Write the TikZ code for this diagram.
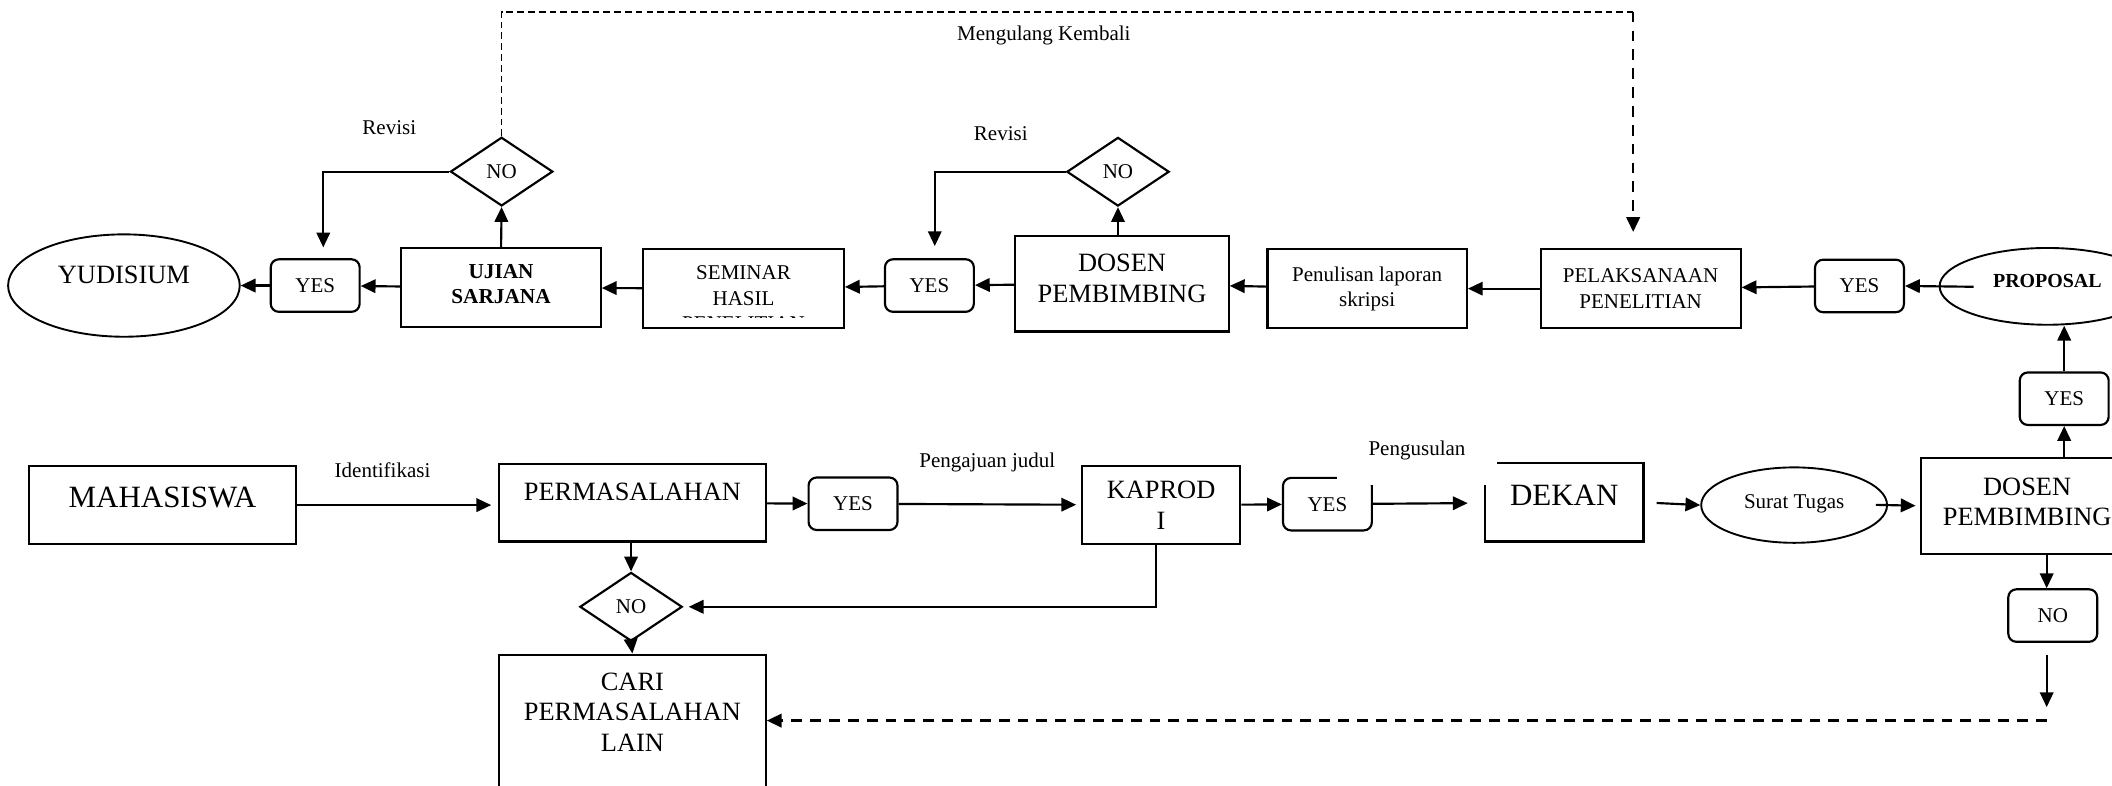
\documentclass[tikz,border=0pt]{standalone}
\usepackage{fontspec}
\setmainfont{Liberation Serif}
\usetikzlibrary{shapes.geometric,arrows.meta}
\begin{document}
\begin{tikzpicture}[x=0.5pt,y=-0.5pt]

\tikzset{line/.style={draw,line width=0.8pt}}
\tikzset{arrow/.style={line,-{Triangle[length=5.5pt,width=5pt]}}}
\tikzset{dashline/.style={draw,line width=0.6pt,dash pattern=on 2.5pt off 1.5pt}}
\tikzset{dasharrow/.style={arrow,line width=0.9pt,dash pattern=on 4pt off 3pt}}
\tikzset{txtS/.style={font=\fontsize{7.8}{9.4}\selectfont}}
\tikzset{txtM/.style={font=\fontsize{9.8}{11.3}\selectfont}}
\tikzset{txtL/.style={font=\fontsize{11.5}{13.5}\selectfont}}
\tikzset{box/.style={line,rectangle,align=center,inner sep=1pt}}
\tikzset{yesbox/.style={box,txtS,rounded corners=3pt,minimum width=33pt,minimum height=19.5pt}}
\tikzset{decision/.style={line,diamond,txtS,inner sep=0pt,minimum width=38pt,minimum height=25.5pt}}
\tikzset{oval/.style={draw,line width=0.7pt,ellipse,align=center,inner sep=1pt}}
\tikzset{lbl/.style={txtS,inner sep=0pt}}

\useasboundingbox (0,0) rectangle (1568,583);
\clip (0,0) rectangle (1568,583);

\node[oval,txtM,text depth=8pt,minimum width=86pt,minimum height=38pt] (yudisium) at (92, 212) {YUDISIUM};
\node[yesbox] (yes1) at (234, 212) {YES};
\node[box,txtS,font=\fontsize{7.9}{9.2}\selectfont\bfseries,text depth=2.5pt,minimum width=74pt,minimum height=29.5pt] (ujian) at (372, 213.5) {UJIAN\\SARJANA};
\node[decision] (no1) at (372.4, 127.4) {NO};
\node[box,minimum width=74.5pt,minimum height=29.3pt] (seminar) at (552, 214.3) {};
\begin{scope}
\clip (478, 186) rectangle (626, 235.5);
\node[lbl,align=center] (seminartext) at (552, 221.5) {SEMINAR\\HASIL\\PENELITIAN};
\end{scope}
\node[yesbox] (yes2) at (690, 212) {YES};
\node[box,txtM,text depth=4pt,minimum width=79.25pt,minimum height=35.5pt] (dosen1) at (833, 210.6) {DOSEN\\PEMBIMBING};
\node[decision] (no2) at (830, 127.5) {NO};
\node[box,txtS,minimum width=74pt,minimum height=29.3pt] (penulisan) at (1015, 214.3) {Penulisan laporan\\skripsi};
\node[box,txtS,minimum width=74.25pt,minimum height=29.3pt] (pelaksanaan) at (1218, 214.3) {PELAKSANAAN\\PENELITIAN};
\node[yesbox] (yes3) at (1380.5, 212.3) {YES};
\node[oval,txtS,font=\fontsize{7.4}{9}\selectfont\bfseries,text depth=4pt,minimum width=80pt,minimum height=28.5pt] (proposal) at (1520, 212.6) {PROPOSAL};

\path[arrow,shorten <=-13pt] (proposal.west) -- (yes3.east);
\path[arrow] (yes3) -- (pelaksanaan);
\path[arrow] (pelaksanaan) -- (penulisan);
\path[arrow] (penulisan) -- (dosen1);
\path[arrow] (dosen1) -- (yes2);
\path[arrow] (yes2) -- (seminar);
\path[arrow] (seminar) -- (ujian);
\path[arrow] (ujian) -- (yes1);
\path[arrow] (yes1) -- (yudisium);
\path[arrow] (ujian.north) -- (no1.south);
\path[arrow] (no2.south |- dosen1.north) -- (no2.south);
\path[arrow,shorten >=4pt] (no1.west) -| ([xshift=3pt]yes1.north);
\path[arrow,shorten >=4.5pt] (no2.west) -| ([xshift=2pt]yes2.north);

\node[lbl] (revisi1) at (289, 95) {Revisi};
\node[lbl] (revisi2) at (743, 99) {Revisi};
\node[lbl] (ulang) at (775, 26.7) {Mengulang Kembali};

\coordinate (turn) at (1212.5, 8.7);
\path[dashline] (no1.north) |- (turn);
\path[dasharrow,shorten >=6pt] (turn) -- (turn |- pelaksanaan.north);

\node[box,txtL,text depth=6pt,minimum width=99pt,minimum height=29pt] (mahasiswa) at (120.6, 375) {MAHASISWA};
\node[box,txtM,text depth=8pt,minimum width=99pt,minimum height=28.75pt] (permasalahan) at (469.5, 373.3) {PERMASALAHAN};
\node[yesbox] (yes4) at (633.3, 374) {YES};
\node[box,txtM,minimum width=58.75pt,minimum height=29pt] (kaprodi) at (862, 375) {KAPROD\\I};
\node[yesbox] (yes5) at (985.5, 374.3) {YES};
\node[box,txtL,text depth=5.5pt,minimum width=58.85pt,minimum height=29pt] (dekan) at (1161.3, 373) {DEKAN};
\node[oval,txtS,text depth=3pt,minimum width=69pt,minimum height=28pt] (surat) at (1332, 375) {Surat Tugas};
\node[box,txtM,text depth=3pt,minimum width=79pt,minimum height=35.5pt] (dosen2) at (1505, 375.5) {DOSEN\\PEMBIMBING};
\node[yesbox] (yes6) at (1532.5, 296) {YES};
\node[yesbox] (no3) at (1524, 457) {NO};
\node[decision] (no4) at (468.5, 450.5) {NO};
\node[box,txtM,text depth=14.5pt,minimum width=99pt,minimum height=57pt] (cari) at (469.5, 543) {CARI\\PERMASALAHAN\\LAIN};

\node[lbl,fill=white,minimum width=59.5pt,minimum height=25.5pt] (pengusulan) at (1052, 334.5) {Pengusulan};
\node[lbl] (identifikasi) at (284, 349) {Identifikasi};
\node[lbl] (pengajuan) at (733, 343.5) {Pengajuan judul};

\path[arrow,shorten >=2.5pt] (mahasiswa.east) -- (mahasiswa.east -| permasalahan.west);
\path[arrow] (permasalahan) -- (yes4);
\path[arrow,shorten >=1.75pt] (yes4) -- (kaprodi);
\path[arrow] (kaprodi) -- (yes5);
\path[arrow,shorten >=6pt] (yes5) -- (dekan);
\path[arrow,shorten <=4.5pt] (dekan.east) -- (surat.west);
\path[arrow,shorten <=-4.5pt,shorten >=1.5pt] (surat.east) -- (dosen2.west);
\path[arrow] (yes6.south |- dosen2.north) -- (yes6.south);
\path[arrow] (yes6.north) -- (yes6.north |- proposal.south);
\path[arrow] (permasalahan.south -| no4.north) -- (no4.north);
\path[arrow,shorten >=2pt] ([xshift=-2pt]kaprodi.south) |- (no4.east);
\path[arrow] (no4.south) -- (cari.north);

\coordinate (back) at (1519.5, 535);
\path[arrow] (back |- dosen2.south) -- (back |- no3.north);
\path[arrow,shorten <=4.5pt,shorten >=5pt] (back |- no3.south) -- (back);
\path[dasharrow] (back) -- (back -| cari.east);

\end{tikzpicture}
\end{document}
